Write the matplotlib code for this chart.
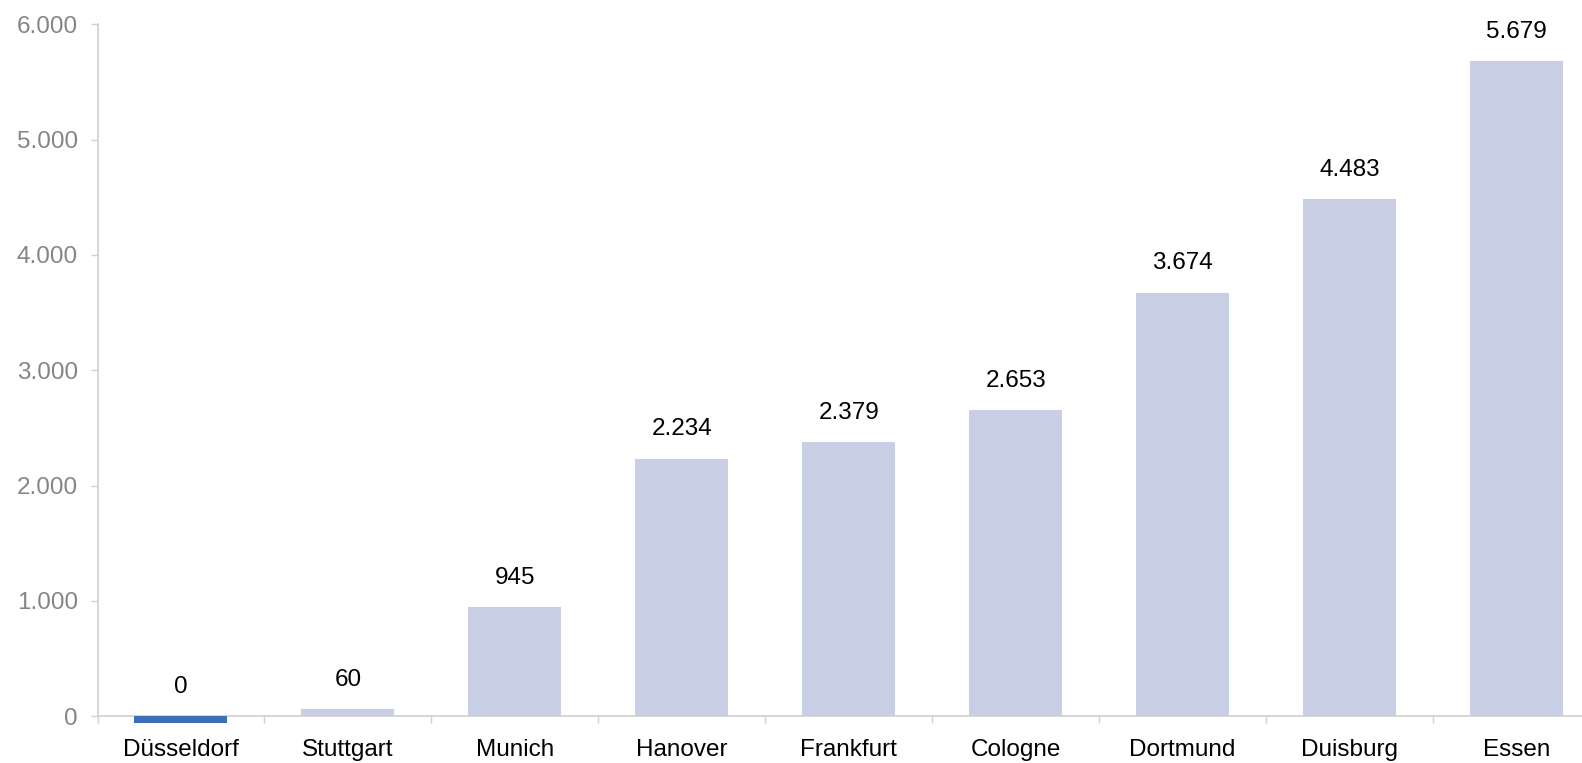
import matplotlib
matplotlib.use("Agg")
import matplotlib.pyplot as plt
import numpy as np

categories = ["Düsseldorf", "Stuttgart", "Munich", "Hanover", "Frankfurt",
              "Cologne", "Dortmund", "Duisburg", "Essen"]
values = [0, 60, 945, 2234, 2379, 2653, 3674, 4483, 5679]
value_labels = ["0", "60", "945", "2.234", "2.379", "2.653", "3.674", "4.483", "5.679"]
highlight = "Düsseldorf"
yticks = [0, 1000, 2000, 3000, 4000, 5000, 6000]
ytick_labels = ["0", "1.000", "2.000", "3.000", "4.000", "5.000", "6.000"]

plt.rcParams['font.family'] = ['Liberation Sans', 'DejaVu Sans']

W, H = 1582, 763
fig = plt.figure(figsize=(W / 100, H / 100), dpi=100)
left, right = 97.5 / W, 1600 / W
bottom, top = 1 - 716.3 / H, 1 - 24.3 / H
ax = fig.add_axes([left, bottom, right - left, top - bottom])

light = "#C8CEE3"
dark = "#3D6FB6"
min_vis = 55  # visible stub for a zero-valued highlighted bar (style)
x = np.arange(len(categories))
vals = np.array(values, dtype=float)
heights = np.where(vals == 0, -min_vis, vals)
colors = [dark if c == highlight else light for c in categories]
bars = ax.bar(x, heights, width=0.557, color=colors, clip_on=False, zorder=2)

FS = 17.5
for xi, v, lab in zip(x, vals, value_labels):
    ax.annotate(lab, (xi, max(v, 0)), xytext=(0, 21), textcoords="offset points",
                ha="center", va="center", fontsize=FS, color="black")

ax.set_xlim(-0.5, len(categories) - 0.5)
ax.set_ylim(0, 6000)
ax.set_yticks(yticks)
ax.set_yticklabels(ytick_labels)
ax.set_xticks(x)
ax.set_xticklabels(categories)
ax.set_xticks(np.arange(len(categories) + 1) - 0.5, minor=True)

axis_col = "#D0D0D0"
for s in ["top", "right"]:
    ax.spines[s].set_visible(False)
for s in ["left", "bottom"]:
    ax.spines[s].set_color(axis_col)
    ax.spines[s].set_linewidth(1.2)
ax.spines["bottom"].set_zorder(1)

ax.tick_params(axis="y", which="major", length=5, width=1, color=axis_col,
               labelsize=FS, labelcolor="#858585", pad=9)
ax.tick_params(axis="x", which="major", length=0, labelsize=FS,
               labelcolor="black", pad=16)
ax.tick_params(axis="x", which="minor", length=5, width=1, color=axis_col)

fig.savefig("out.png", dpi=100)
